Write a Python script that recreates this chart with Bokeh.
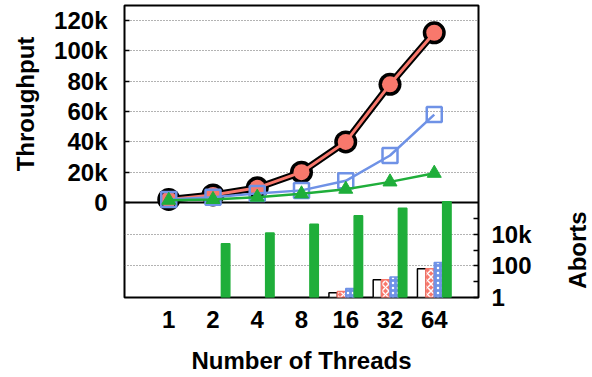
import math

from bokeh.embed import file_html
from bokeh.models import (ColumnDataSource, FixedTicker, Grid, Label, LinearAxis,
                          LogScale, Range1d, Span)
from bokeh.plotting import figure
from bokeh.resources import INLINE

# ---- data -------------------------------------------------------------
threads = [1, 2, 4, 8, 16, 32, 64]

# throughput (operations / s)
tput_black = [2000, 5000, 9700, 20000, 40000, 78000, 112000]
tput_red = [2000, 5000, 9700, 20000, 40000, 78000, 112000]
tput_blue = [2000, 3500, 6000, 8000, 14300, 31000, 58000]
tput_green = [1500, 2000, 3500, 5700, 8800, 13600, 19300]

# aborts (0 = none recorded)
aborts_black = [0, 0, 0, 0, 2, 13, 65]
aborts_red = [0, 0, 0, 0, 2.4, 13, 65]
aborts_blue = [0, 0, 0, 0, 3.7, 20, 165]
aborts_green = [0, 2500, 11700, 42000, 148000, 430000, 1100000]

tput_ticks = [0, 20000, 40000, 60000, 80000, 100000, 120000]
tput_tick_labels = ["0", "20k", "40k", "60k", "80k", "100k", "120k"]
abort_ticks = [1, 100, 10000]
abort_minor_ticks = [10, 1000, 100000]
abort_tick_labels = ["1", "100", "10k"]

# ---- layout -----------------------------------------------------------
W, H = 592, 377
B_LEFT, B_RIGHT, B_TOP, B_BOTTOM = 124, 114, 5, 80
FRAME_H = H - B_TOP - B_BOTTOM          # 292
UPPER_H = 197                           # throughput panel height (px)
LOWER_H = FRAME_H - UPPER_H             # aborts panel height (px)
TPUT_MAX = 130000
ABORT_DECADES = 6                       # lower panel spans 1 .. 1e6

X_MAX = len(threads) + 1
PX_PER_X = (W - B_LEFT - B_RIGHT) / X_MAX

FONT = "Liberation Sans"
TICK_SIZE = "24px"
TITLE_SIZE = "24px"
RED = "#f8786c"
BLUE = "#6f92e6"
GREEN = "#1fae3a"
GRID = "#666666"

xs = [i + 1 for i in range(len(threads))]

p = figure(width=W, height=H, output_backend="svg", toolbar_location=None,
           x_range=Range1d(0, X_MAX),
           y_range=Range1d(-TPUT_MAX * LOWER_H / UPPER_H, TPUT_MAX),
           min_border_left=B_LEFT, min_border_right=B_RIGHT,
           min_border_top=B_TOP, min_border_bottom=B_BOTTOM)
p.outline_line_color = "black"
p.outline_line_width = 2
p.background_fill_color = "white"
p.border_fill_color = "white"

# log-scaled range for the aborts panel, sharing the same frame
log_end = 10 ** (ABORT_DECADES * FRAME_H / LOWER_H)
p.extra_y_ranges = {"log": Range1d(1, log_end)}
p.extra_y_scales = {"log": LogScale()}

# ---- axes -------------------------------------------------------------
p.xgrid.visible = False
p.ygrid.ticker = FixedTicker(ticks=tput_ticks[1:])
p.ygrid.grid_line_color = GRID
p.ygrid.grid_line_dash = "1 2"
p.ygrid.grid_line_width = 1

yax = p.yaxis[0]
yax.ticker = FixedTicker(ticks=tput_ticks)
yax.major_label_overrides = dict(zip(tput_ticks, tput_tick_labels))
yax.axis_line_color = None
yax.major_tick_in = 5
yax.major_tick_out = 0
yax.major_tick_line_width = 1.5
yax.minor_tick_line_color = None
yax.major_label_standoff = 17
yax.major_label_text_font = FONT
yax.major_label_text_font_style = "bold"
yax.major_label_text_font_size = TICK_SIZE
yax.major_label_text_color = "black"

xax = p.xaxis[0]
xax.ticker = FixedTicker(ticks=xs)
xax.major_label_overrides = {x: str(t) for x, t in zip(xs, threads)}
xax.axis_line_color = None
xax.major_tick_line_color = None
xax.minor_tick_line_color = None
xax.major_label_standoff = 7
xax.major_label_text_font = FONT
xax.major_label_text_font_style = "bold"
xax.major_label_text_font_size = TICK_SIZE
xax.major_label_text_color = "black"
xax.axis_label = "Number of Threads"
xax.axis_label_standoff = 16
xax.axis_label_text_font = FONT
xax.axis_label_text_font_style = "bold"
xax.axis_label_text_font_size = TITLE_SIZE
xax.axis_label_text_color = "black"

rax = LinearAxis(y_range_name="log",
                 ticker=FixedTicker(ticks=abort_ticks, minor_ticks=abort_minor_ticks))
rax.major_label_overrides = dict(zip(abort_ticks, abort_tick_labels))
rax.axis_line_color = None
rax.major_tick_in = 5
rax.major_tick_out = 0
rax.minor_tick_in = 5
rax.minor_tick_out = 0
rax.major_tick_line_width = 1.5
rax.minor_tick_line_width = 1.5
rax.major_label_standoff = 13
rax.major_label_text_font = FONT
rax.major_label_text_font_style = "bold"
rax.major_label_text_font_size = TICK_SIZE
rax.major_label_text_color = "black"
p.add_layout(rax, "right")

abort_grid = Grid(dimension=1, y_range_name="log",
                  ticker=FixedTicker(ticks=[100, 10000]),
                  grid_line_color=GRID, grid_line_dash="1 2", grid_line_width=1)
p.add_layout(abort_grid)

# panel separator at zero throughput
p.add_layout(Span(location=0, dimension="width", line_color="black",
                  line_width=2, level="underlay"))

# ---- aborts bars (log panel) -----------------------------------------
BAR_W = 0.19
bar_series = [
    (aborts_black, dict(fill_color="white", line_color="black")),
    (aborts_red, dict(fill_color=RED, line_color=RED, hatch_pattern="diagonal_cross",
                      hatch_color="white", hatch_scale=7, hatch_weight=1.5)),
    (aborts_blue, dict(fill_color=BLUE, line_color=BLUE, hatch_pattern="dot",
                       hatch_color="white", hatch_scale=5, hatch_weight=1.2)),
    (aborts_green, dict(fill_color=GREEN, line_color=GREEN)),
]
for k, (vals, style) in enumerate(bar_series):
    off = (k - 1.5) * BAR_W
    pts = [(x + off, v) for x, v in zip(xs, vals) if v > 0]
    src = ColumnDataSource(dict(x=[a for a, _ in pts], top=[b for _, b in pts]))
    p.vbar(x="x", top="top", bottom=1, width=BAR_W, source=src,
           y_range_name="log", line_width=1.5, **style)

# ---- throughput lines -------------------------------------------------
p.line(xs, tput_black, line_color="black", line_width=7)
p.scatter(xs, tput_black, marker="circle", size=23, fill_color="black", line_color=None)

p.line(xs, tput_red, line_color=RED, line_width=3)
p.scatter(xs, tput_red, marker="circle", size=16, fill_color=RED, line_color=None)

p.line(xs, tput_blue, line_color=BLUE, line_width=2.5)
p.scatter(xs, tput_blue, marker="square", size=15, fill_color=None,
          line_color=BLUE, line_width=2.5)

p.line(xs, tput_green, line_color=GREEN, line_width=2.5)
p.scatter(xs, tput_green, marker="triangle", size=14, fill_color=GREEN,
          line_color=GREEN, line_width=1)

# ---- panel titles (placed in the side panels so they are not clipped) --
p.add_layout(Label(x=-(B_LEFT - 25) / PX_PER_X, y=TPUT_MAX / 2,
                   text="Throughput", angle=math.pi / 2,
                   text_align="center", text_baseline="middle",
                   text_font=FONT, text_font_style="bold",
                   text_font_size=TITLE_SIZE, text_color="black"), "left")
p.add_layout(Label(x=X_MAX + (577 - (W - B_RIGHT)) / PX_PER_X,
                   y=10 ** (ABORT_DECADES / 2), y_range_name="log",
                   text="Aborts", angle=math.pi / 2,
                   text_align="center", text_baseline="middle",
                   text_font=FONT, text_font_style="bold",
                   text_font_size=TITLE_SIZE, text_color="black"), "right")

open("out.html", "w").write(file_html(p, INLINE))
